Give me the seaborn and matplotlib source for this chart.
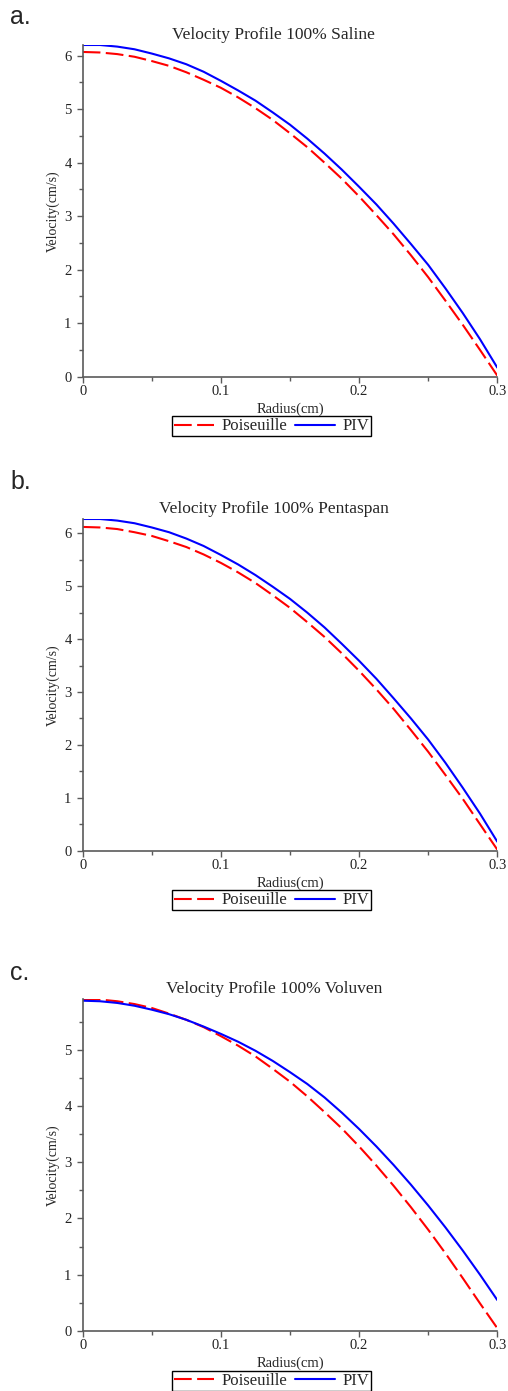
import matplotlib

matplotlib.use("Agg")
import matplotlib.pyplot as plt
import pandas as pd
import seaborn as sns
from matplotlib.ticker import MultipleLocator

radius = [
    0.0, 0.0125, 0.025, 0.0375, 0.05, 0.0625, 0.075, 0.0875, 0.1,
    0.1125, 0.125, 0.1375, 0.15, 0.1625, 0.175, 0.1875, 0.2,
    0.2125, 0.225, 0.2375, 0.25, 0.2625, 0.275, 0.2875, 0.3,
]

# a. Saline
saline_poiseuille = [
    6.07, 6.06, 6.03, 5.98, 5.90, 5.81, 5.69, 5.55, 5.40,
    5.22, 5.02, 4.80, 4.55, 4.29, 4.00, 3.70, 3.37,
    3.02, 2.66, 2.27, 1.86, 1.42, 0.97, 0.50, 0.02,
]
saline_piv = [
    6.20, 6.20, 6.17, 6.12, 6.04, 5.95, 5.84, 5.70, 5.53,
    5.35, 5.16, 4.94, 4.71, 4.45, 4.17, 3.87, 3.55,
    3.22, 2.86, 2.48, 2.09, 1.65, 1.19, 0.70, 0.17,
]

# b. Pentaspan
pentaspan_poiseuille = [
    6.12, 6.11, 6.08, 6.02, 5.95, 5.85, 5.74, 5.60, 5.44,
    5.26, 5.06, 4.83, 4.59, 4.32, 4.04, 3.73, 3.40,
    3.05, 2.68, 2.28, 1.87, 1.43, 0.98, 0.50, 0.02,
]
pentaspan_piv = [
    6.27, 6.27, 6.24, 6.19, 6.11, 6.02, 5.90, 5.76, 5.59,
    5.41, 5.21, 4.99, 4.76, 4.50, 4.22, 3.91, 3.59,
    3.25, 2.88, 2.50, 2.10, 1.66, 1.19, 0.70, 0.17,
]

# c. Voluven
voluven_poiseuille = [
    5.90, 5.89, 5.86, 5.81, 5.74, 5.64, 5.53, 5.40, 5.24,
    5.07, 4.88, 4.66, 4.43, 4.17, 3.89, 3.60, 3.28,
    2.94, 2.58, 2.20, 1.80, 1.38, 0.94, 0.49, 0.05,
]
voluven_piv = [
    5.87, 5.86, 5.83, 5.78, 5.71, 5.63, 5.53, 5.41, 5.28,
    5.14, 4.98, 4.80, 4.60, 4.39, 4.15, 3.88, 3.59,
    3.28, 2.95, 2.60, 2.23, 1.84, 1.43, 1.00, 0.55,
]

panel_letters = ["a.", "b.", "c."]
panel_titles = [
    "Velocity Profile 100% Saline",
    "Velocity Profile 100% Pentaspan",
    "Velocity Profile 100% Voluven",
]
panel_data = [
    (saline_poiseuille, saline_piv),
    (pentaspan_poiseuille, pentaspan_piv),
    (voluven_poiseuille, voluven_piv),
]

sns.set_style("ticks")
plt.rcParams["font.family"] = ["Liberation Serif", "DejaVu Serif"]

W, H = 508, 1391
fig = plt.figure(figsize=(W / 100, H / 100), dpi=100)

# pixel boxes: (left, top, right, bottom) of each axes
ax_boxes = [
    (82.7, 45.0, 497.3, 376.7),
    (82.7, 519.0, 497.3, 850.7),
    (82.7, 999.0, 497.3, 1331.0),
]
letter_y = [17, 482, 973]

spine_col = "#5a5a5a"

for i, (box, (pois, piv)) in enumerate(zip(ax_boxes, panel_data)):
    l, t, r, b = box
    ax = fig.add_axes([l / W, 1 - b / H, (r - l) / W, (b - t) / H])

    df = pd.DataFrame({"Radius": radius, "Poiseuille": pois, "PIV": piv})

    sns.lineplot(
        data=df, x="Radius", y="Poiseuille", ax=ax, color="#ff0000",
        linewidth=1.5, label="Poiseuille",
    )
    ax.get_lines()[-1].set_dashes([8.5, 2.6])
    sns.lineplot(
        data=df, x="Radius", y="PIV", ax=ax, color="#0000ff",
        linewidth=1.5, label="PIV",
    )

    ax.set_xlim(0, 0.3)
    ax.set_ylim(0, max(max(pois), max(piv)))

    ax.set_xticks([0, 0.1, 0.2, 0.3])
    ax.set_xticklabels(["0", "0.1", "0.2", "0.3"])
    ax.xaxis.set_minor_locator(MultipleLocator(0.05))
    ax.yaxis.set_major_locator(MultipleLocator(1))
    ax.yaxis.set_minor_locator(MultipleLocator(0.5))

    sns.despine(ax=ax)
    for side in ["left", "bottom"]:
        ax.spines[side].set_color(spine_col)
        ax.spines[side].set_linewidth(1.2)

    ax.tick_params(which="major", length=4, width=1, color=spine_col,
                   labelsize=10.5, labelcolor="#222222", pad=2)
    ax.tick_params(axis="y", which="major", pad=4)
    ax.tick_params(which="minor", length=3, width=1, color=spine_col)

    ax.set_xlabel("Radius(cm)", fontsize=10.5, labelpad=3)
    ax.set_ylabel("Velocity(cm/s)", fontsize=10, labelpad=3)
    ax.set_title(panel_titles[i], fontsize=12.5, pad=4, x=0.461)

    leg = ax.legend(
        loc="center", bbox_to_anchor=(0.455, -0.15), ncol=2,
        fontsize=12, frameon=True, fancybox=False, framealpha=1,
        edgecolor="black", handlelength=2.45, handletextpad=0.42,
        columnspacing=0.45, borderpad=0.12, borderaxespad=0,
    )
    leg.get_frame().set_linewidth(1.0)
    leg.get_lines()[0].set_dashes([8.5, 2.6])

    fig.text(10 / W, 1 - letter_y[i] / H, panel_letters[i],
             family="Liberation Sans", fontsize=18, va="center", ha="left")

plt.savefig("out.png", dpi=100)
plt.close()
